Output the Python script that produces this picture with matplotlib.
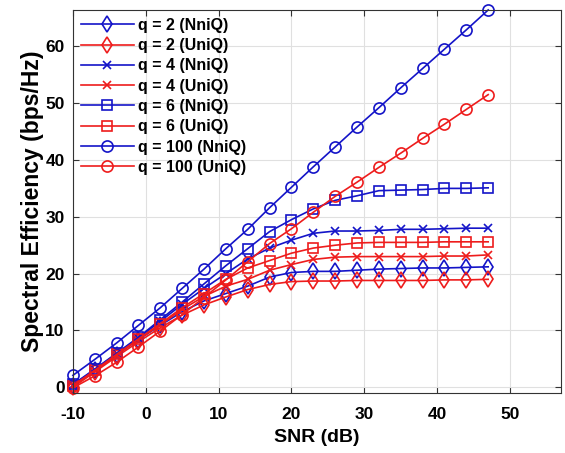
import numpy as np
import matplotlib.pyplot as plt

plt.rcParams['font.family'] = ['Liberation Sans', 'DejaVu Sans']
plt.rcParams['font.weight'] = 'bold'
plt.rcParams['axes.unicode_minus'] = False

# SNR axis (dB)
snr = [-10, -7, -4, -1, 2, 5, 8, 11, 14, 17, 20, 23, 26, 29, 32, 35, 38, 41, 44, 47]

q2_nniq = [0.3, 3.0, 5.7, 8.4, 10.9, 13.3, 15.2, 16.5, 17.8, 19.4, 20.2, 20.4, 20.4, 20.6,
           20.8, 20.9, 21.0, 21.0, 21.1, 21.2]
q2_uniq = [0.0, 2.7, 5.4, 8.0, 10.5, 12.7, 14.5, 15.9, 17.2, 18.1, 18.6, 18.7, 18.7, 18.8,
           18.8, 18.8, 18.8, 18.9, 18.9, 19.0]
q4_nniq = [0.4, 3.1, 5.9, 8.7, 11.6, 14.6, 17.4, 20.0, 22.6, 24.5, 25.9, 27.1, 27.5, 27.5,
           27.6, 27.8, 27.8, 27.9, 28.0, 28.0]
q4_uniq = [0.2, 2.9, 5.7, 8.4, 11.0, 13.7, 16.0, 17.8, 19.0, 20.6, 21.6, 22.5, 22.9, 23.0,
           23.0, 23.0, 23.0, 23.1, 23.1, 23.3]
q6_nniq = [0.5, 3.2, 6.0, 8.8, 11.9, 15.0, 18.2, 21.4, 24.4, 27.4, 29.5, 31.4, 32.9, 33.7,
           34.6, 34.7, 34.8, 35.0, 35.0, 35.1]
q6_uniq = [0.3, 3.0, 5.8, 8.5, 11.2, 14.0, 16.5, 19.0, 21.0, 22.3, 23.6, 24.5, 25.0, 25.4,
           25.5, 25.5, 25.5, 25.6, 25.6, 25.6]
q100_nniq = [2.1, 4.9, 7.8, 10.9, 14.0, 17.4, 20.8, 24.4, 27.8, 31.6, 35.2, 38.8, 42.3, 45.8,
             49.2, 52.7, 56.1, 59.5, 62.9, 66.4]
q100_uniq = [-0.1, 2.0, 4.4, 7.1, 9.9, 12.8, 15.8, 18.9, 22.1, 25.3, 27.9, 30.8, 33.6, 36.1,
             38.7, 41.2, 43.8, 46.3, 48.9, 51.5]

blue = '#1414c8'
red = '#ee1c1c'

series = [
    (q2_nniq, blue, 'd', 'q = 2 (NniQ)'),
    (q2_uniq, red, 'd', 'q = 2 (UniQ)'),
    (q4_nniq, blue, 'x', 'q = 4 (NniQ)'),
    (q4_uniq, red, 'x', 'q = 4 (UniQ)'),
    (q6_nniq, blue, 's', 'q = 6 (NniQ)'),
    (q6_uniq, red, 's', 'q = 6 (UniQ)'),
    (q100_nniq, blue, 'o', 'q = 100 (NniQ)'),
    (q100_uniq, red, 'o', 'q = 100 (UniQ)'),
]
msize = {'d': 8.5, 'x': 5.5, 's': 6.5, 'o': 8}

fig = plt.figure(figsize=(5.65, 4.53), dpi=100)
ax = fig.add_axes([0.129, 0.1325, 0.864, 0.8455])

for y, c, m, lab in series:
    ax.plot(snr, y, color=c, marker=m, markersize=msize[m], markerfacecolor='none',
            markeredgewidth=1.2, lw=1.2, label=lab, clip_on=False)

ax.set_xlim(-10, 57)
ax.set_ylim(-1, 66.4)
ax.set_xticks([-10, 0, 10, 20, 30, 40, 50])
ax.set_yticks([0, 10, 20, 30, 40, 50, 60])
ax.grid(True, color='#e0e0e0', lw=0.8)
ax.set_axisbelow(True)
ax.tick_params(direction='in', top=True, right=True, labelsize=12.5, length=4,
               color='#333333')
ax.tick_params(axis='x', pad=10)
ax.tick_params(axis='y', pad=6)
for s in ax.spines.values():
    s.set_color('#333333')
    s.set_linewidth(0.8)
ax.set_xlabel('SNR (dB)', fontsize=14, fontweight='bold', labelpad=5)
ax.set_ylabel('Spectral Efficiency (bps/Hz)', fontsize=16.5, fontweight='bold', labelpad=1)

ax.legend(loc='upper left', frameon=False, fontsize=11.5, handlelength=3.3,
          handletextpad=0.3, labelspacing=0.33, borderaxespad=0.2,
          borderpad=0.3)

fig.savefig('out.png', dpi=100)
